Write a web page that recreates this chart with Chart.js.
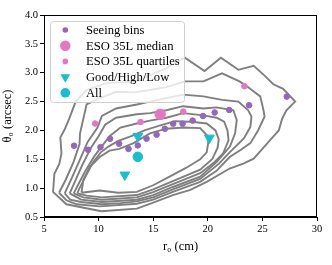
<!DOCTYPE html>
<html>
<head>
<meta charset="utf-8">
<script src="https://cdn.jsdelivr.net/npm/chart.js@4.4.0/dist/chart.umd.min.js"></script>
<style>
  html, body { margin: 0; padding: 0; background: #fff; }
</style>
</head>
<body>
<canvas id="seeingChart" width="332" height="265"></canvas>
<script>
// seeing bins (purple dots)
const seeingR0 = [7.75, 9.04, 10.17, 11.05, 11.88, 12.74, 13.59, 14.39, 15.31, 16.07, 16.83, 17.69, 18.61, 19.56, 20.63, 21.97, 23.78, 27.23];
const seeingTheta = [1.735, 1.665, 1.71, 1.856, 1.77, 1.68, 1.74, 1.856, 1.926, 2.03, 2.117, 2.117, 2.17, 2.25, 2.31, 2.355, 2.436, 2.586];

// ESO 35L
const medianR0 = [15.64];
const medianTheta = [2.28];
const quartileR0 = [9.68, 13.84, 17.75, 23.35];
const quartileTheta = [2.12, 2.146, 2.326, 2.766];

// Good / High / Low and All
const groupR0 = [13.59, 20.14, 12.4];
const groupTheta = [1.9, 1.87, 1.23];
const allR0 = [13.59];
const allTheta = [1.543];

// density contours, outer to inner, [r0, theta0]
const contour1 = [[10.26,0.6],[13.5,0.645],[15.0,0.75],[16.8,0.88],[18.4,0.97],[19.9,1.11],[22.0,1.34],[23.3,1.43],[24.2,1.51],[24.9,1.66],[25.7,1.83],[26.5,2.0],[26.8,2.2],[27.2,2.35],[28.0,2.5],[26.9,2.72],[26.0,2.8],[25.2,2.95],[24.2,3.12],[22.8,3.05],[21.2,3.26],[19.7,3.03],[17.9,3.26],[16.2,3.08],[14.7,2.96],[13.5,2.85],[10.7,2.82],[8.9,2.7],[7.9,2.5],[7.3,2.2],[6.9,2.02],[6.5,1.88],[6.6,1.6],[6.4,1.42],[5.95,1.25],[5.83,0.935],[7.05,0.72],[10.26,0.6]];
const contour2 = [[6.38,0.92],[7.05,0.79],[8.0,0.72],[10.1,0.685],[13.5,0.73],[15.0,0.8],[16.8,0.935],[19.3,1.11],[20.8,1.3],[22.0,1.54],[23.0,1.66],[23.9,1.78],[24.6,2.0],[25.2,2.24],[25.1,2.35],[24.8,2.59],[23.4,2.79],[22.9,2.85],[21.3,2.99],[19.6,2.85],[17.9,2.85],[16.2,2.75],[14.7,2.7],[13.3,2.66],[11.6,2.67],[10.0,2.55],[8.9,2.45],[8.6,2.2],[8.3,1.95],[8.25,1.76],[7.7,1.45],[7.0,1.15],[6.38,0.92]];
const contour3 = [[6.9,0.91],[7.4,0.8],[8.4,0.76],[10.3,0.72],[12.0,0.74],[13.5,0.77],[15.0,0.84],[16.8,0.98],[19.3,1.16],[21.0,1.42],[22.0,1.62],[23.3,1.86],[23.9,2.06],[24.0,2.24],[23.7,2.35],[22.8,2.5],[21.3,2.53],[19.6,2.59],[17.75,2.62],[16.2,2.56],[14.7,2.5],[13.5,2.45],[11.6,2.38],[10.3,2.25],[9.9,2.05],[9.0,1.8],[8.3,1.5],[7.6,1.2],[6.9,0.91]];
const contour4 = [[7.35,0.91],[8.4,0.8],[10.3,0.76],[13.5,0.8],[15.0,0.88],[16.8,1.02],[19.3,1.2],[20.8,1.45],[22.03,1.72],[22.5,1.95],[22.65,2.18],[22.34,2.35],[20.8,2.4],[19.6,2.38],[17.75,2.42],[16.2,2.35],[14.7,2.3],[13.5,2.28],[11.6,2.22],[10.6,2.1],[10.0,1.9],[9.3,1.7],[8.5,1.4],[7.8,1.1],[7.35,0.91]];
const contour5 = [[7.72,0.91],[8.6,0.84],[10.3,0.8],[13.5,0.84],[15.0,0.93],[16.8,1.07],[19.3,1.26],[20.6,1.45],[21.4,1.6],[21.9,1.83],[21.8,2.0],[21.5,2.15],[20.8,2.22],[19.6,2.26],[17.75,2.3],[16.2,2.22],[14.7,2.17],[13.5,2.12],[12.0,2.05],[11.0,1.9],[10.4,1.75],[9.6,1.55],[8.8,1.3],[8.1,1.05],[7.72,0.91]];
const contour6 = [[8.06,0.91],[8.9,0.87],[10.3,0.84],[13.5,0.88],[15.0,0.98],[16.8,1.12],[19.3,1.32],[20.4,1.5],[20.9,1.7],[21.0,1.85],[20.7,2.0],[19.9,2.12],[18.5,2.15],[17.0,2.16],[15.5,2.08],[14.2,2.0],[13.0,1.9],[11.8,1.82],[10.9,1.72],[10.2,1.62],[9.5,1.45],[8.8,1.2],[8.2,0.98],[8.06,0.91]];
const contour7 = [[8.43,0.92],[10.1,0.96],[11.8,0.92],[13.5,0.935],[15.0,1.05],[16.5,1.2],[18.0,1.35],[19.3,1.5],[19.9,1.62],[20.05,1.8],[19.9,1.92],[19.3,2.04],[17.75,2.05],[16.2,2.03],[14.7,1.95],[13.2,1.78],[11.9,1.68],[11.0,1.65],[10.1,1.54],[9.2,1.37],[8.6,1.14],[8.43,0.92]];

const xTicks = [5, 10, 15, 20, 25, 30];
const yTicks = [0.5, 1.0, 1.5, 2.0, 2.5, 3.0, 3.5, 4.0];

const PURPLE = '#9467bd';
const PINK = '#e377c2';
const CYAN = '#17becf';
const GREY = '#7f7f7f';
const SERIF = '"Liberation Serif", "DejaVu Serif", serif';

function pts(xs, ys) {
    return xs.map((x, i) => ({x: x, y: ys[i]}));
}

const contourSets = [contour1, contour2, contour3, contour4, contour5, contour6, contour7].map(c => ({
    type: 'line',
    data: c.map(p => ({x: p[0], y: p[1]})),
    borderColor: GREY,
    borderWidth: 1.9,
    pointRadius: 0,
    fill: false,
    tension: 0,
    order: 5
}));

const markerSets = [
    {label: 'Seeing bins', data: pts(seeingR0, seeingTheta), backgroundColor: PURPLE, borderColor: PURPLE,
     pointRadius: 2.8, pointStyle: 'circle', order: 1},
    {label: 'ESO 35L median', data: pts(medianR0, medianTheta), backgroundColor: PINK, borderColor: PINK,
     pointRadius: 5.2, pointStyle: 'circle', order: 1},
    {label: 'ESO 35L quartiles', data: pts(quartileR0, quartileTheta), backgroundColor: PINK, borderColor: PINK,
     pointRadius: 2.8, pointStyle: 'circle', order: 1},
    {label: 'Good/High/Low', data: pts(groupR0, groupTheta), backgroundColor: CYAN, borderColor: CYAN,
     pointRadius: 5.6, pointStyle: 'triangle', rotation: 180, order: 1},
    {label: 'All', data: pts(allR0, allTheta), backgroundColor: CYAN, borderColor: CYAN,
     pointRadius: 4.8, pointStyle: 'circle', order: 1}
];

// legend box drawn inside the axes, like matplotlib
const boxLegend = {
    id: 'boxLegend',
    afterDatasetsDraw(chart) {
        const ctx = chart.ctx;
        const x0 = 50, y0 = 21, w = 134, h = 81;
        ctx.save();
        ctx.beginPath();
        ctx.roundRect(x0 + 0.5, y0 + 0.5, w, h, 3);
        ctx.fillStyle = 'rgba(255,255,255,0.8)';
        ctx.fill();
        ctx.strokeStyle = '#d0d0d0';
        ctx.lineWidth = 1;
        ctx.stroke();

        ctx.font = '12.6px ' + SERIF;
        ctx.textBaseline = 'middle';
        markerSets.forEach((ds, i) => {
            const cy = 30 + i * 15.7;
            const cx = 65.3;
            ctx.fillStyle = ds.backgroundColor;
            ctx.beginPath();
            if (ds.pointStyle === 'triangle') {
                const r = ds.pointRadius;
                ctx.moveTo(cx, cy + r);
                ctx.lineTo(cx - r * 0.866, cy - r * 0.5);
                ctx.lineTo(cx + r * 0.866, cy - r * 0.5);
                ctx.closePath();
            } else {
                ctx.arc(cx, cy, ds.pointRadius, 0, Math.PI * 2);
            }
            ctx.fill();
            ctx.fillStyle = '#000';
            ctx.fillText(ds.label, 86, cy + 0.5);
        });
        ctx.restore();
    },
    afterDraw(chart) {
        const a = chart.chartArea;
        const ctx = chart.ctx;
        ctx.save();
        ctx.strokeStyle = '#000';
        ctx.lineWidth = 1;
        ctx.strokeRect(Math.round(a.left) + 0.5, Math.round(a.top) + 0.5,
            Math.round(a.right - a.left) - 1, Math.round(a.bottom - a.top) - 1);
        ctx.restore();
    }
};

const ctx = document.getElementById('seeingChart').getContext('2d');
new Chart(ctx, {
    type: 'scatter',
    data: {datasets: markerSets.concat(contourSets)},
    options: {
        responsive: false,
        animation: false,
        events: [],
        layout: {padding: {top: 15, right: 15, left: 0, bottom: 0}},
        plugins: {legend: {display: false}, tooltip: {enabled: false}},
        scales: {
            x: {
                type: 'linear',
                min: 5, max: 30,
                afterFit: s => { s.height = 48; },
                afterBuildTicks: s => { s.ticks = xTicks.map(v => ({value: v})); },
                ticks: {color: '#000', font: {family: SERIF, size: 10.5}, padding: 2, maxRotation: 0},
                grid: {drawOnChartArea: false, drawTicks: true, tickLength: 4, color: '#000'},
                border: {display: true, color: '#000', width: 1},
                title: {display: true, text: 'r₀ (cm)', color: '#000',
                        font: {family: SERIF, size: 12.5}, padding: {top: 0, bottom: 11}}
            },
            y: {
                type: 'linear',
                min: 0.5, max: 4.0,
                afterFit: s => { s.width = 44; },
                afterBuildTicks: s => { s.ticks = yTicks.map(v => ({value: v})); },
                ticks: {color: '#000', font: {family: SERIF, size: 10.5}, padding: 2,
                        callback: v => v.toFixed(1)},
                grid: {drawOnChartArea: false, drawTicks: true, tickLength: 4, color: '#000'},
                border: {display: true, color: '#000', width: 1},
                title: {display: true, text: 'θ₀ (arcsec)', color: '#000',
                        font: {family: SERIF, size: 12.5}, padding: {top: 0, bottom: 0}}
            }
        }
    },
    plugins: [boxLegend]
});
</script>
</body>
</html>
